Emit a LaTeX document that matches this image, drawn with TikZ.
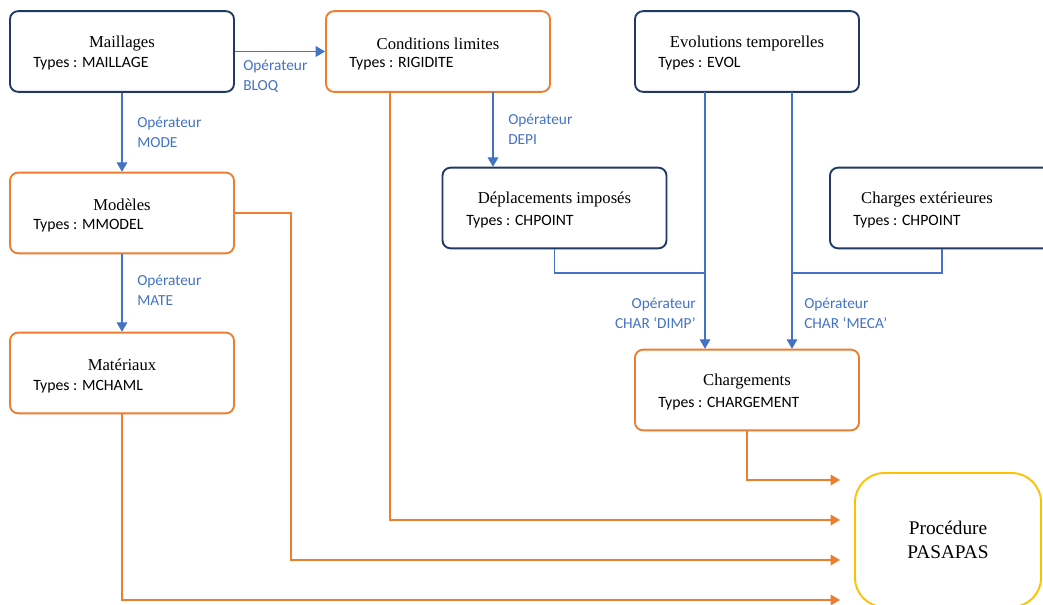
\documentclass[tikz,border=0pt]{standalone}
\usepackage{fontspec}
\setmainfont{Liberation Serif}
\newfontfamily\calibri{Carlito}
\usetikzlibrary{arrows.meta}
\definecolor{navy}{HTML}{203864}
\definecolor{orangeC}{HTML}{ED7D31}
\definecolor{bleu}{HTML}{4472C4}
\definecolor{jaune}{HTML}{FFC000}
\tikzset{
  boite/.style={draw, rounded corners=6pt, line width=1.4pt, minimum width=168pt, minimum height=60.5pt, inner sep=0pt},
  navybox/.style={boite, draw=navy},
  orangebox/.style={boite, draw=orangeC},
  titre/.style={font=\fontsize{12.5}{15}\selectfont, inner sep=0pt, yshift=-1.2pt},
  typ/.style={font=\calibri\fontsize{11.8}{14}\selectfont, inner sep=0pt, anchor=west, yshift=-1.2pt},
  oper/.style={font=\calibri\fontsize{11.5}{15}\selectfont, text=bleu, inner sep=0pt, align=left, anchor=west},
  bleufl/.style={draw=bleu, line width=0.9pt, -{Triangle[length=7pt,width=8pt]}},
  bleuli/.style={draw=bleu, line width=0.9pt},
  orfl/.style={draw=orangeC, line width=0.9pt, -{Triangle[length=7pt,width=8pt]}}
}

\begin{document}
\begin{tikzpicture}[x=0.75pt,y=-0.75pt]
\useasboundingbox (0,0) rectangle (1043,605);

% boites
\node[navybox] (mail) at (122,51.5) {};
\node[titre] (mailT) at (122,42) {Maillages};
\node[typ] (mailY) at (33,62) {Types : MAILLAGE};

\node[orangebox] (cond) at (438,51.5) {};
\node[titre] (condT) at (438,42) {Conditions limites};
\node[typ] (condY) at (349,62) {Types : RIGIDITE};

\node[navybox] (evol) at (747,51.5) {};
\node[titre] (evolT) at (747,42) {Evolutions temporelles};
\node[typ] (evolY) at (658,62) {Types : EVOL};

\node[orangebox] (mod) at (122,213) {};
\node[titre] (modT) at (122,203) {Modèles};
\node[typ] (modY) at (33,224) {Types : MMODEL};

\node[orangebox] (mat) at (122,373) {};
\node[titre] (matT) at (122,363) {Matériaux};
\node[typ] (matY) at (33,385) {Types : MCHAML};

\node[navybox] (depl) at (554.5,208) {};
\node[titre] (deplT) at (554.5,198) {Déplacements imposés};
\node[typ] (deplY) at (466,220) {Types : CHPOINT};

\node[navybox] (chext) at (942,208) {};
\node[titre] (chextT) at (927,198) {Charges extérieures};
\node[typ] (chextY) at (853,220) {Types : CHPOINT};

\node[orangebox] (charg) at (747,390) {};
\node[titre] (chargT) at (747,380) {Chargements};
\node[typ] (chargY) at (658,402) {Types : CHARGEMENT};

\node[draw=jaune, line width=1.4pt, rounded corners=22pt, minimum width=139.5pt, minimum height=100.5pt,
  align=center, font=\fontsize{14.5}{18.5}\selectfont] (proc) at (948,540) {Procédure\\PASAPAS};

% points de passage
\coordinate (cd) at (493,92);
\coordinate (e1) at (705,92);
\coordinate (e2) at (792,92);
\coordinate (j1) at (705,273);
\coordinate (j2) at (792,273);
\coordinate (cb) at (390,92);
\coordinate (a1) at (840,480);
\coordinate (a2) at (840,520);
\coordinate (a3) at (840,560);
\coordinate (a4) at (840,600);

% operateurs
\draw[bleufl] (mail) -- (cond);
\draw[bleufl] (mail) -- (mod);
\draw[bleufl] (mod) -- (mat);
\draw[bleufl] (cd) -- (cd |- depl.north);
\draw[bleufl] (e1) -- (e1 |- charg.north);
\draw[bleufl] (e2) -- (e2 |- charg.north);
\draw[bleuli] (depl.south) |- (j1);
\draw[bleuli] (chext.south) |- (j2);

\node[oper] (opBloq) at (243,76) {Opérateur\\BLOQ};
\node[oper] (opMode) at (137,132) {Opérateur\\MODE};
\node[oper] (opMate) at (137,290) {Opérateur\\MATE};
\node[oper] (opDepi) at (508,129) {Opérateur\\DEPI};
\node[oper, anchor=east, align=right] (opDimp) at (696,313) {Opérateur\\CHAR ‘DIMP’};
\node[oper] (opMeca) at (804,313) {Opérateur\\CHAR ‘MECA’};

% vers PASAPAS
\draw[orfl] (charg.south) |- (a1);
\draw[orfl] (cb) |- (a2);
\draw[orfl] (mod.east) -- ++(56,0) |- (a3);
\draw[orfl] (mat.south) |- (a4);
\end{tikzpicture}
\end{document}
